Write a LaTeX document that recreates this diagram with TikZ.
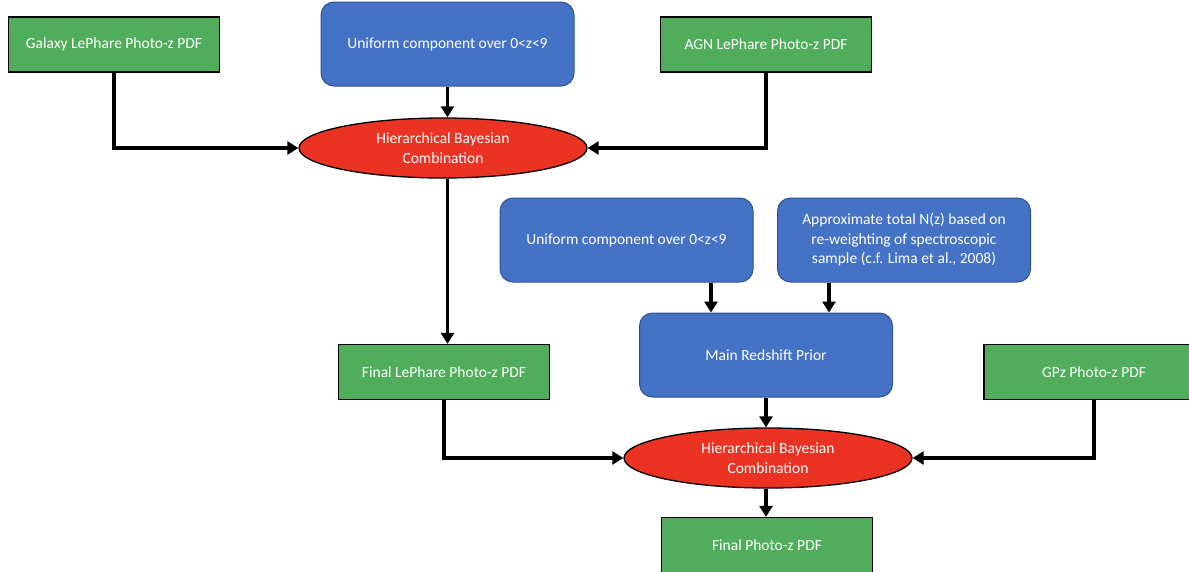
\documentclass[tikz,border=0pt]{standalone}
\usepackage{fontspec}
\setmainfont{Carlito}
\usetikzlibrary{arrows.meta,shapes.geometric}

\definecolor{boxgreen}{HTML}{4FAD5B}
\definecolor{boxblue}{HTML}{4472C4}
\definecolor{edgeblue}{HTML}{2F528F}
\definecolor{combred}{HTML}{EB3324}

\begin{document}
\begin{tikzpicture}[x=1pt,y=1pt]
\tikzstyle{every node}+=[font=\fontsize{15.5}{19.5}\selectfont, text=white, align=center]
\tikzstyle{pdfbox}=[rectangle, draw=black, line width=1.3pt, fill=boxgreen, minimum width=211pt, minimum height=55pt]
\tikzstyle{priorbox}=[rectangle, rounded corners=13pt, draw=edgeblue, line width=1pt, fill=boxblue, minimum width=253pt, minimum height=84pt]
\tikzstyle{combell}=[ellipse, draw=black, line width=1.3pt, fill=combred, minimum width=288pt, minimum height=60pt, inner sep=0pt]
\tikzstyle{arr}=[line width=3.2pt, -{Triangle[length=11pt,width=13pt]}]
\useasboundingbox (0,0) rectangle (1189,-571);
% upper combination
\node [pdfbox] (gal) at (114,-44.5) {Galaxy LePhare Photo-z PDF};
\node [priorbox] (uni1) at (447.5,-44) {Uniform component over 0<z<9};
\node [pdfbox] (agn) at (766,-44.5) {AGN LePhare Photo-z PDF};
\node [combell] (hbc1) at (443,-148) {Hierarchical Bayesian\\Combination};
\node [pdfbox] (lep) at (444,-372) {Final LePhare Photo-z PDF};
% prior
\node [priorbox] (uni2) at (626.5,-240) {Uniform component over 0<z<9};
\node [priorbox] (nz) at (904,-240) {Approximate total N(z) based on\\re-weighting of spectroscopic\\sample (c.f. Lima et al., 2008)};
\node [priorbox] (prior) at (766,-355) {Main Redshift Prior};
% lower combination
\node [pdfbox, minimum width=220pt] (gpz) at (1094,-372) {GPz Photo-z PDF};
\node [combell] (hbc2) at (768,-458) {Hierarchical Bayesian\\Combination};
\node [pdfbox] (fin) at (767,-545) {Final Photo-z PDF};
\coordinate (p1) at ([xshift=-55pt]prior.north);
\coordinate (p2) at ([xshift=63pt]prior.north);
% connectors
\draw [arr] (gal.south) |- (hbc1.west);
\draw [arr] (uni1.south) -- (uni1.south |- hbc1.north);
\draw [arr] (agn.south) |- (hbc1.east);
\draw [arr] (hbc1.south -| uni1.south) -- (lep.north -| uni1.south);
\draw [arr] (uni2.south -| p1) -- (p1);
\draw [arr] (nz.south -| p2) -- (p2);
\draw [arr] (prior.south) -- (prior.south |- hbc2.north);
\draw [arr] (lep.south) |- (hbc2.west);
\draw [arr] (gpz.south) |- (hbc2.east);
\draw [arr] (hbc2.south -| prior.south) -- (fin.north -| prior.south);
\end{tikzpicture}
\end{document}
